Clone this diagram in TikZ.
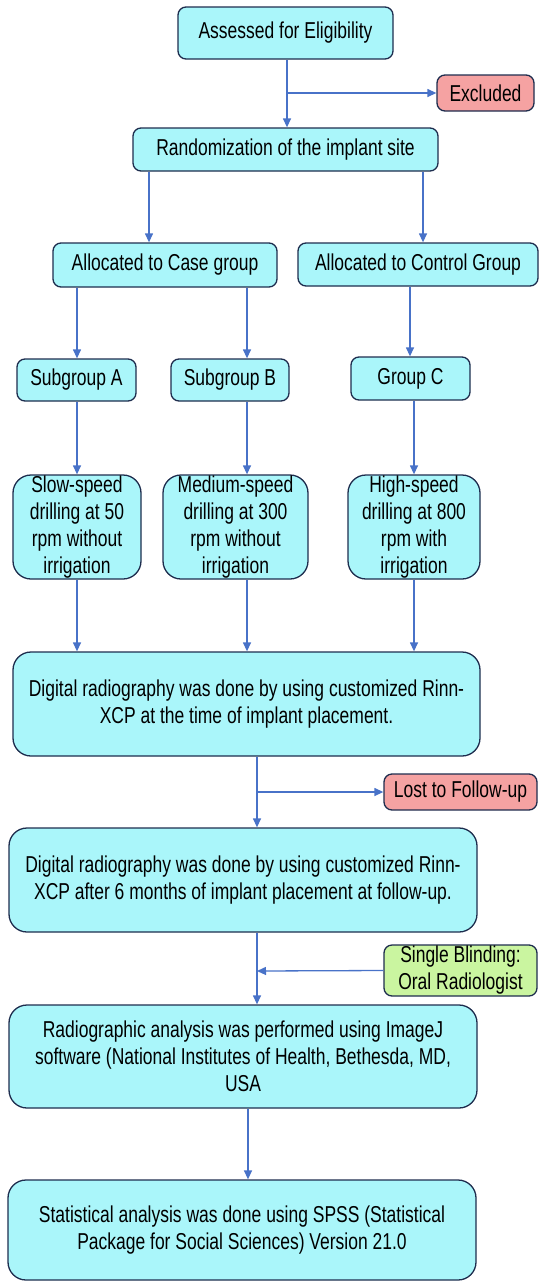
\documentclass[tikz,border=0pt]{standalone}
\usepackage{fontspec}
\setmainfont{Liberation Sans}[FakeStretch=0.76]
\usetikzlibrary{arrows.meta}
\definecolor{boxfill}{RGB}{170,246,250}
\definecolor{redfill}{RGB}{245,162,162}
\definecolor{greenfill}{RGB}{202,245,160}
\definecolor{boxline}{RGB}{30,45,78}
\definecolor{arrowcol}{RGB}{72,114,200}
\tikzset{
  box/.style={draw=boxline, line width=1.3pt, fill=boxfill, rounded corners=8pt, align=center, inner sep=0pt,
    font=\fontsize{23}{27}\selectfont},
  bigbox/.style={box, rounded corners=18pt},
  redbox/.style={box, fill=redfill},
  greenbox/.style={box, fill=greenfill},
  arr/.style={draw=arrowcol, line width=1.3pt, -{Triangle[length=9pt,width=8pt]}},
}
\begin{document}
\begin{tikzpicture}[x=1pt,y=-1pt]
\useasboundingbox (0,0) rectangle (539,1282);
% nodes
\node[box, minimum width=215pt, minimum height=52pt] (assess) at (285.5,33) {Assessed for Eligibility};
\node[redbox, minimum width=97pt, minimum height=36pt] (excl) at (485.5,93) {Excluded};
\node[box, minimum width=305pt, minimum height=43pt] (rand) at (285.5,149.5) {Randomization of the implant site};
\node[box, minimum width=224pt, minimum height=44pt] (case) at (165,265) {Allocated to Case group};
\node[box, minimum width=240pt, minimum height=43pt] (control) at (418,264.5) {Allocated to Control Group};
\node[box, minimum width=119pt, minimum height=42pt] (subA) at (76.5,380) {Subgroup A};
\node[box, minimum width=118pt, minimum height=42pt] (subB) at (230,380) {Subgroup B};
\node[box, minimum width=119pt, minimum height=43pt] (groupC) at (410.5,378.5) {Group C};
\node[bigbox, minimum width=128pt, minimum height=104pt] (slow) at (77,527) {Slow-speed\\drilling at 50\\rpm without\\irrigation};
\node[bigbox, minimum width=145pt, minimum height=104pt] (medium) at (235.5,527) {Medium-speed\\drilling at 300\\rpm without\\irrigation};
\node[bigbox, minimum width=132pt, minimum height=104pt] (high) at (414,527) {High-speed\\drilling at 800\\rpm with\\irrigation};
\node[bigbox, minimum width=467pt, minimum height=104pt] (dr1) at (246.5,704) {Digital radiography was done by using customized Rinn-\\XCP at the time of implant placement.};
\node[redbox, minimum width=153pt, minimum height=36pt] (lost) at (460.5,792) {Lost to Follow-up};
\node[bigbox, minimum width=468pt, minimum height=104pt] (dr2) at (243,880) {Digital radiography was done by using customized Rinn-\\XCP after 6 months of implant placement at follow-up.};
\node[greenbox, minimum width=153pt, minimum height=51pt] (blind) at (460.5,970.5) {Single Blinding:\\Oral Radiologist};
\node[bigbox, minimum width=468pt, minimum height=103pt] (radio) at (243,1056.5) {Radiographic analysis was performed using ImageJ\\software (National Institutes of Health, Bethesda, MD,\\USA};
\node[bigbox, minimum width=468pt, minimum height=100pt] (stat) at (242,1230) {Statistical analysis was done using SPSS (Statistical\\Package for Social Sciences) Version 21.0};
% lanes
\coordinate (lT) at (287,0);
\coordinate (lRL) at (149,0);
\coordinate (lRR) at (423,0);
\coordinate (lA) at (77,0);
\coordinate (lB) at (247,0);
\coordinate (lC) at (410,0);
\coordinate (lH) at (414,0);
\coordinate (lM) at (257,0);
\coordinate (lS) at (248,0);
\coordinate (jB) at (257,971);
% connectors
\draw[arr] (assess.south -| lT) -- (rand.north -| lT);
\draw[arr] (lT |- excl.west) -- (excl.west);
\draw[arr] (rand.south -| lRL) -- (case.north -| lRL);
\draw[arr] (rand.south -| lRR) -- (control.north -| lRR);
\draw[arr] (case.south -| lA) -- (subA.north -| lA);
\draw[arr] (case.south -| lB) -- (subB.north -| lB);
\draw[arr] (control.south -| lC) -- (groupC.north -| lC);
\draw[arr] (subA.south -| lA) -- (slow.north -| lA);
\draw[arr] (subB.south -| lB) -- (medium.north -| lB);
\draw[arr] (groupC.south -| lH) -- (high.north -| lH);
\draw[arr] (slow.south -| lA) -- (dr1.north -| lA);
\draw[arr] (medium.south -| lB) -- (dr1.north -| lB);
\draw[arr] (high.south -| lH) -- (dr1.north -| lH);
\draw[arr] (dr1.south -| lM) -- (dr2.north -| lM);
\draw[arr] (lM |- lost.west) -- (lost.west);
\draw[arr] (dr2.south -| lM) -- (radio.north -| lM);
\draw[arr] (blind.west) -- (jB);
\draw[arr] (radio.south -| lS) -- (stat.north -| lS);
\end{tikzpicture}
\end{document}
